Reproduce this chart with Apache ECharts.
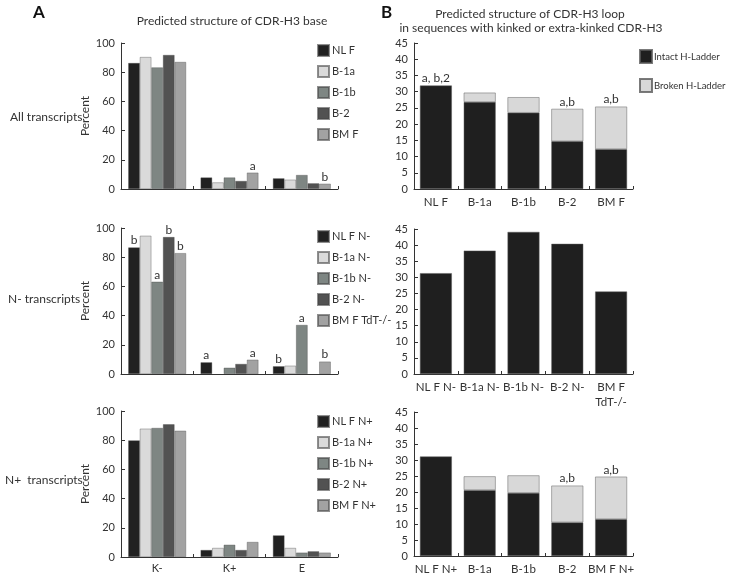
<!DOCTYPE html>
<html>
<head>
<meta charset="utf-8">
<script src="https://cdn.jsdelivr.net/npm/echarts@6/dist/echarts.min.js"></script>
<style>
  html, body { margin: 0; padding: 0; background: #fff; }
  #chart { width: 729px; height: 577px; }
</style>
</head>
<body>
<div id="chart"></div>
<script>
// ---- data: panel A (percent of transcripts by base structure) ----
const groups = ['K-', 'K+', 'E']
const namesAll = ['NL F', 'B-1a', 'B-1b', 'B-2', 'BM F']
const namesNminus = ['NL F N-', 'B-1a N-', 'B-1b N-', 'B-2 N-', 'BM F TdT-/-']
const namesNplus = ['NL F N+', 'B-1a N+', 'B-1b N+', 'B-2 N+', 'BM F N+']
// one row per series, one column per group (K-, K+, E)
const allValues = [[86.3, 7.9, 7.3], [90.4, 4.5, 6.4], [83.3, 7.9, 9.6], [91.8, 5.5, 3.9], [87.0, 11.2, 3.6]]
const allNotes = [['', '', ''], ['', '', ''], ['', '', ''], ['', '', ''], ['', 'a', 'b']]
const nMinusValues = [[86.7, 8.0, 5.3], [94.7, 0, 5.7], [63.2, 4.3, 33.6], [93.8, 6.9, 0], [82.8, 9.8, 8.5]]
const nMinusNotes = [['b', 'a', 'b'], ['', '', ''], ['a', '', 'a'], ['b', '', 'b'], ['b', 'a', 'b']]
const nPlusValues = [[79.9, 4.8, 14.8], [87.9, 6.2, 6.2], [88.4, 8.4, 3.0], [90.9, 4.8, 3.9], [86.5, 10.3, 3.0]]
const nPlusNotes = [['', '', ''], ['', '', ''], ['', '', ''], ['', '', ''], ['', '', '']]
const percentTicks = [0, 20, 40, 60, 80, 100]

// ---- data: panel B (loop structure, kinked / extra-kinked) ----
const loopCats = ['NL F', 'B-1a', 'B-1b', 'B-2', 'BM F']
const loopIntact = [31.9, 26.8, 23.5, 14.7, 12.3]
const loopBroken = [0, 2.9, 4.8, 10.0, 13.1]
const loopNotes = ['a, b,2', '', '', 'a,b', 'a,b']
const loopNminusCats = ['NL F N-', 'B-1a N-', 'B-1b N-', 'B-2 N-', 'BM F\nTdT-/-']
const loopNminusIntact = [31.3, 38.3, 44.1, 40.4, 25.6]
const loopNplusCats = ['NL F N+', 'B-1a', 'B-1b', 'B-2', 'BM F N+']
const loopNplusIntact = [31.1, 20.6, 19.7, 10.5, 11.5]
const loopNplusBroken = [0, 4.3, 5.5, 11.5, 13.3]
const loopNplusNotes = ['', '', '', 'a,b', 'a,b']
const loopTicks = [0, 45]

const FONT = 'Lato'
const barColors = ['#212121', '#dadada', '#7e8683', '#525252', '#a2a2a2']
const intactColor = '#1f1f1f'
const brokenColor = '#d8d8d8'

const chart = echarts.init(document.getElementById('chart'))

const gridsA = [
  { left: 121, top: 43, width: 217, height: 146 },
  { left: 121, top: 228, width: 217, height: 146 },
  { left: 121, top: 411, width: 217, height: 146 }
]
const gridsB = [
  { left: 414, top: 43, width: 219, height: 146 },
  { left: 414, top: 229, width: 219, height: 145 },
  { left: 414, top: 412, width: 219, height: 145 }
]

const axisLine = { show: true, lineStyle: { color: '#333', width: 1 } }
const tickLabel = { fontFamily: FONT, fontSize: 11, color: '#333' }

const xAxes = []
const yAxes = []
const series = []
const legends = []

// panel A
const panelsA = [
  { names: namesAll, values: allValues, notes: allNotes, legendTop: 39 },
  { names: namesNminus, values: nMinusValues, notes: nMinusNotes, legendTop: 225 },
  { names: namesNplus, values: nPlusValues, notes: nPlusNotes, legendTop: 410 }
]
panelsA.forEach((p, gi) => {
  xAxes.push({
    type: 'category', gridIndex: gi, data: groups,
    axisLine: axisLine,
    axisTick: { show: true, inside: true, length: 3, lineStyle: { color: '#333' } },
    axisLabel: Object.assign({ show: gi === 2, margin: 6 }, tickLabel)
  })
  yAxes.push({
    type: 'value', gridIndex: gi, min: percentTicks[0], max: percentTicks[percentTicks.length - 1], interval: 20,
    name: 'Percent', nameLocation: 'middle', nameGap: 30, nameRotate: 90,
    nameTextStyle: { fontFamily: FONT, fontSize: 12, color: '#333' },
    axisLine: axisLine,
    axisTick: { show: true, inside: true, length: 4, lineStyle: { color: '#333' } },
    axisLabel: Object.assign({ margin: 6 }, tickLabel),
    splitLine: { show: false }
  })
  p.names.forEach((name, si) => {
    series.push({
      type: 'bar', name: name, xAxisIndex: gi, yAxisIndex: gi,
      barGap: '0%', barCategoryGap: '20%',
      itemStyle: { color: barColors[si], borderColor: 'rgba(70,70,70,0.6)', borderWidth: 0.6 },
      data: p.values[si].map((v, ci) => {
        const note = p.notes[si][ci]
        return {
          value: v === 0 ? '-' : v,
          label: note ? { show: true, position: 'top', distance: 1, formatter: note, fontFamily: FONT, fontSize: 12, color: '#333' } : { show: false }
        }
      })
    })
  })
  legends.push({
    orient: 'vertical', left: 312, top: p.legendTop, itemGap: 8,
    itemWidth: 11, itemHeight: 11, icon: 'rect',
    textStyle: { fontFamily: FONT, fontSize: 11, color: '#333', padding: [0, 0, 0, -2] },
    data: p.names
  })
})

// panel B
const panelsB = [
  { cats: loopCats, intact: loopIntact, broken: loopBroken, notes: loopNotes },
  { cats: loopNminusCats, intact: loopNminusIntact, broken: null, notes: null },
  { cats: loopNplusCats, intact: loopNplusIntact, broken: loopNplusBroken, notes: loopNplusNotes }
]
panelsB.forEach((p, i) => {
  const gi = i + 3
  xAxes.push({
    type: 'category', gridIndex: gi, data: p.cats,
    axisLine: axisLine,
    axisTick: { show: true, inside: true, length: 3, lineStyle: { color: '#333' } },
    axisLabel: Object.assign({ margin: 6, interval: 0, lineHeight: 15 }, tickLabel, { fontSize: 11.5 })
  })
  yAxes.push({
    type: 'value', gridIndex: gi, min: loopTicks[0], max: loopTicks[1], interval: 5,
    axisLine: axisLine,
    axisTick: { show: true, inside: true, length: 4, lineStyle: { color: '#333' } },
    axisLabel: Object.assign({ margin: 6 }, tickLabel),
    splitLine: { show: false }
  })
  const noteLabel = (note) => note
    ? { show: true, position: 'top', distance: 1, formatter: note, fontFamily: FONT, fontSize: 12, color: '#333' }
    : { show: false }
  series.push({
    type: 'bar', name: 'Intact H-Ladder', xAxisIndex: gi, yAxisIndex: gi, stack: 'loop' + gi,
    barCategoryGap: '27%',
    itemStyle: { color: intactColor, borderColor: 'rgba(90,90,90,0.8)', borderWidth: 0.6 },
    data: p.intact.map((v, ci) => ({
      value: v,
      label: noteLabel(p.notes && !(p.broken && p.broken[ci]) ? p.notes[ci] : '')
    }))
  })
  if (p.broken) {
    series.push({
      type: 'bar', name: 'Broken H-Ladder', xAxisIndex: gi, yAxisIndex: gi, stack: 'loop' + gi,
      barCategoryGap: '27%',
      itemStyle: { color: brokenColor, borderColor: 'rgba(90,90,90,0.8)', borderWidth: 0.6 },
      data: p.broken.map((v, ci) => ({
        value: v === 0 ? '-' : v,
        label: noteLabel(v ? p.notes[ci] : '')
      }))
    })
  }
})
legends.push({
  orient: 'vertical', left: 634, top: 44, itemGap: 14,
  itemWidth: 12, itemHeight: 13, icon: 'rect',
  textStyle: { fontFamily: FONT, fontSize: 9.5, color: '#333', padding: [0, 0, 0, -3] },
  data: ['Intact H-Ladder', 'Broken H-Ladder']
})

const txt = (text, x, y, opts) => ({
  type: 'text', x: x, y: y, silent: true,
  style: Object.assign({ text: text, fontFamily: FONT, fontSize: 12, fill: '#333', align: 'left', verticalAlign: 'middle' }, opts || {})
})

const option = {
  animation: false,
  grid: gridsA.concat(gridsB),
  xAxis: xAxes,
  yAxis: yAxes,
  legend: legends,
  series: series,
  graphic: [
    txt('A', 33, 13, { fontSize: 17, fontWeight: 'bold', fill: '#111' }),
    txt('B', 381, 13, { fontSize: 17, fontWeight: 'bold', fill: '#111' }),
    txt('Predicted structure of CDR-H3 base', 232, 21, { align: 'center' }),
    txt('Predicted structure of CDR-H3 loop', 530, 14, { align: 'center' }),
    txt('in sequences with kinked or extra-kinked CDR-H3', 531, 28, { align: 'center' }),
    txt('All transcripts', 10, 117),
    txt('N- transcripts', 8, 299),
    txt('N+  transcripts', 5, 480)
  ]
}
chart.setOption(option)
</script>
</body>
</html>
